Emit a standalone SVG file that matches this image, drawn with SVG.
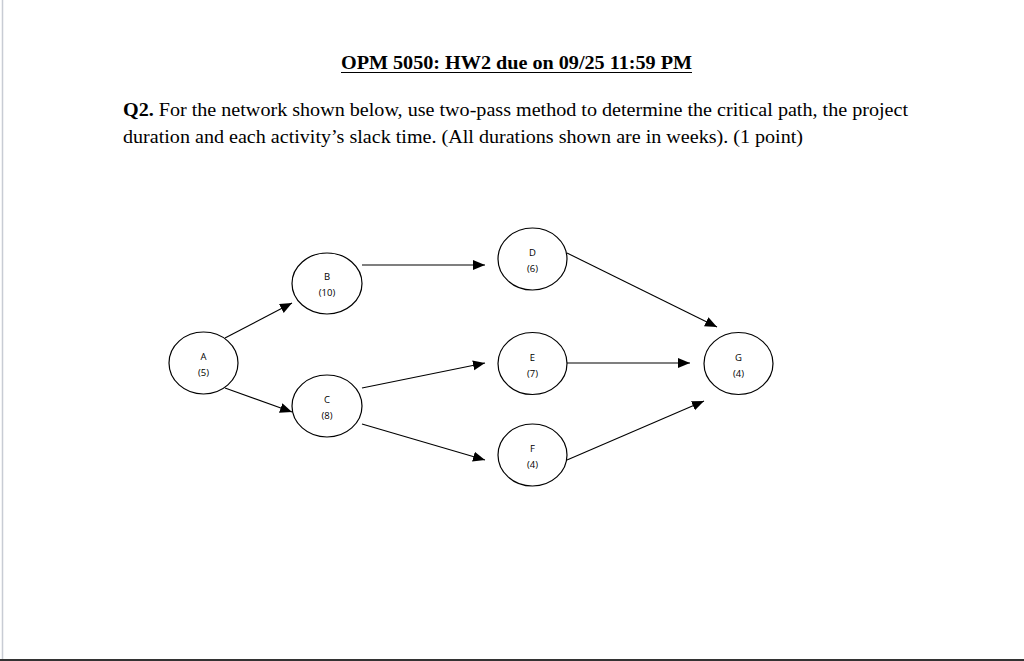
<svg xmlns="http://www.w3.org/2000/svg" width="1024" height="661" viewBox="0 0 1024 661">
<style>
.node ellipse{fill:#fff;stroke:#000;stroke-width:1.2}
.node text{font-family:"Open Sans","Liberation Sans",sans-serif;font-size:9.5px;fill:#000;text-anchor:middle}
.conn line{stroke:#000;stroke-width:1.1;marker-end:url(#arr)}
.doc{font-family:"Liberation Serif","Times New Roman",serif;fill:#000}
</style>
<defs>
<marker id="arr" markerUnits="userSpaceOnUse" markerWidth="13" markerHeight="11" refX="12" refY="5" orient="auto">
<path d="M0,0 L12,5 L0,10 z" fill="#000"/>
</marker>
</defs>
<rect x="0" y="0" width="1024" height="661" fill="#fff"/>
<line x1="2.5" y1="0" x2="2.5" y2="661" stroke="#c8ccd4" stroke-width="1.5"/>
<line x1="0" y1="660" x2="1024" y2="660" stroke="#333" stroke-width="2"/>
<g id="header">
<text class="doc" x="341" y="69" font-size="18.5" font-weight="bold" textLength="351" lengthAdjust="spacingAndGlyphs">OPM 5050: HW2 due on 09/25 11:59 PM</text>
<line x1="341" y1="72.5" x2="692" y2="72.5" stroke="#000" stroke-width="1.2"/>
<text class="doc" x="123" y="116" font-size="19" textLength="785" lengthAdjust="spacingAndGlyphs"><tspan font-weight="bold">Q2.</tspan> For the network shown below, use two-pass method to determine the critical path, the project</text>
<text class="doc" x="123" y="143" font-size="19" textLength="680" lengthAdjust="spacingAndGlyphs">duration and each activity’s slack time. (All durations shown are in weeks). (1 point)</text>
</g>
<g id="connectors" class="conn">
<line x1="225" y1="338" x2="292" y2="303"/>
<line x1="225" y1="388" x2="292" y2="412"/>
<line x1="362" y1="265" x2="485" y2="265"/>
<line x1="362" y1="388" x2="485" y2="363"/>
<line x1="362" y1="424" x2="485" y2="460"/>
<line x1="567" y1="253" x2="717" y2="327"/>
<line x1="567" y1="363" x2="690" y2="363"/>
<line x1="567" y1="460" x2="704" y2="401"/>
</g>
<g id="node-A" class="node"><ellipse cx="203.5" cy="363" rx="34.5" ry="31"/><text x="203.5" y="360">A</text><text x="203.5" y="376">(5)</text></g>
<g id="node-B" class="node"><ellipse cx="327" cy="283.5" rx="35" ry="30.5"/><text x="327" y="280">B</text><text x="327" y="296">(10)</text></g>
<g id="node-C" class="node"><ellipse cx="327" cy="406" rx="35" ry="31"/><text x="327" y="403">C</text><text x="327" y="419">(8)</text></g>
<g id="node-D" class="node"><ellipse cx="532.5" cy="259" rx="34.5" ry="31"/><text x="532.5" y="256">D</text><text x="532.5" y="272">(6)</text></g>
<g id="node-E" class="node"><ellipse cx="532.5" cy="363.5" rx="34.5" ry="31"/><text x="532.5" y="360.5">E</text><text x="532.5" y="376.5">(7)</text></g>
<g id="node-F" class="node"><ellipse cx="532.5" cy="455" rx="34.5" ry="31"/><text x="532.5" y="452">F</text><text x="532.5" y="468">(4)</text></g>
<g id="node-G" class="node"><ellipse cx="738.5" cy="363.5" rx="34.5" ry="31"/><text x="738.5" y="360.5">G</text><text x="738.5" y="376.5">(4)</text></g>
</svg>
